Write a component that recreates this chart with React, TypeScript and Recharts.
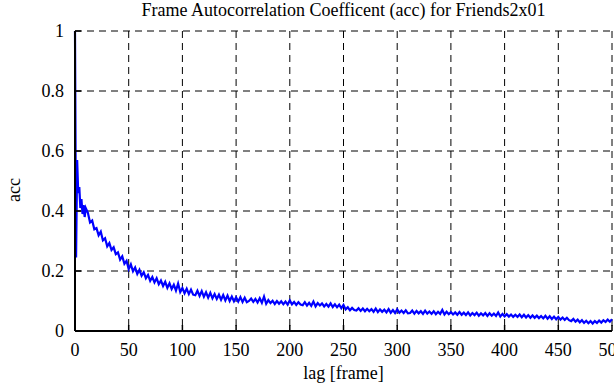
import { CartesianGrid, Line, LineChart, XAxis, YAxis } from "recharts";

const title = "Frame Autocorrelation Coefficent (acc) for Friends2x01";
const xLabel = "lag [frame]";
const yLabel = "acc";

const xTicks = [0, 50, 100, 150, 200, 250, 300, 350, 400, 450, 500];
const yTicks = [0, 0.2, 0.4, 0.6, 0.8, 1];

// lag in frames
const lags = [
  0, 1, 2, 3, 4, 5, 6, 7, 8, 9, 10,
  12, 14, 16, 18, 20, 22, 24, 26, 28, 30, 32, 34, 36, 38, 40, 42, 44, 46, 48, 50, 52, 54, 56, 58, 60,
  62, 64, 66, 68, 70, 72, 74, 76, 78, 80, 82, 84, 86, 88, 90, 92, 94, 96, 98, 100, 102, 104, 106, 108, 110,
  112, 114, 116, 118, 120, 122, 124, 126, 128, 130, 132, 134, 136, 138, 140, 142, 144, 146, 148, 150, 152, 154, 156, 158, 160,
  162, 164, 166, 168, 170, 172, 174, 176, 178, 180, 182, 184, 186, 188, 190, 192, 194, 196, 198, 200, 202, 204, 206, 208, 210,
  212, 214, 216, 218, 220, 222, 224, 226, 228, 230, 232, 234, 236, 238, 240, 242, 244, 246, 248, 250, 252, 254, 256, 258, 260,
  262, 264, 266, 268, 270, 272, 274, 276, 278, 280, 282, 284, 286, 288, 290, 292, 294, 296, 298, 300, 302, 304, 306, 308, 310,
  312, 314, 316, 318, 320, 322, 324, 326, 328, 330, 332, 334, 336, 338, 340, 342, 344, 346, 348, 350, 352, 354, 356, 358, 360,
  362, 364, 366, 368, 370, 372, 374, 376, 378, 380, 382, 384, 386, 388, 390, 392, 394, 396, 398, 400, 402, 404, 406, 408, 410,
  412, 414, 416, 418, 420, 422, 424, 426, 428, 430, 432, 434, 436, 438, 440, 442, 444, 446, 448, 450, 452, 454, 456, 458, 460,
  462, 464, 466, 468, 470, 472, 474, 476, 478, 480, 482, 484, 486, 488, 490, 492, 494, 496, 498, 500,
];

// autocorrelation coefficient
const acc = [
  1.0, 0.245, 0.57, 0.46, 0.48, 0.41, 0.44, 0.39, 0.42, 0.38, 0.41,
  0.394, 0.362, 0.368, 0.339, 0.343, 0.319, 0.331, 0.302, 0.309, 0.282, 0.293, 0.27, 0.279, 0.256, 0.262, 0.238, 0.249, 0.224, 0.234, 0.206, 0.222, 0.199, 0.212, 0.19, 0.204,
  0.184, 0.196, 0.176, 0.187, 0.167, 0.18, 0.162, 0.176, 0.156, 0.168, 0.15, 0.164, 0.144, 0.159, 0.14, 0.154, 0.135, 0.158, 0.13, 0.143, 0.126, 0.141, 0.123, 0.138, 0.121,
  0.119, 0.134, 0.117, 0.133, 0.114, 0.129, 0.111, 0.127, 0.109, 0.123, 0.107, 0.121, 0.104, 0.12, 0.102, 0.118, 0.1, 0.115, 0.099, 0.112, 0.098, 0.113, 0.097, 0.111, 0.096,
  0.1, 0.108, 0.097, 0.107, 0.095, 0.109, 0.094, 0.115, 0.091, 0.103, 0.093, 0.101, 0.09, 0.1, 0.091, 0.099, 0.089, 0.098, 0.088, 0.102, 0.089, 0.097, 0.087, 0.096, 0.088,
  0.086, 0.096, 0.085, 0.094, 0.084, 0.098, 0.082, 0.093, 0.085, 0.092, 0.082, 0.09, 0.081, 0.092, 0.08, 0.089, 0.079, 0.088, 0.076, 0.087, 0.072, 0.079, 0.069, 0.077, 0.07,
  0.068, 0.076, 0.067, 0.075, 0.066, 0.074, 0.066, 0.073, 0.064, 0.075, 0.063, 0.072, 0.064, 0.071, 0.062, 0.073, 0.061, 0.07, 0.06, 0.072, 0.061, 0.068, 0.06, 0.069, 0.059,
  0.06, 0.068, 0.058, 0.067, 0.059, 0.066, 0.057, 0.068, 0.058, 0.065, 0.057, 0.066, 0.056, 0.064, 0.057, 0.07, 0.055, 0.064, 0.056, 0.063, 0.055, 0.062, 0.054, 0.063, 0.054,
  0.061, 0.053, 0.062, 0.052, 0.06, 0.053, 0.061, 0.051, 0.059, 0.052, 0.06, 0.05, 0.059, 0.051, 0.058, 0.05, 0.062, 0.048, 0.057, 0.049, 0.056, 0.048, 0.055, 0.047, 0.054,
  0.047, 0.055, 0.046, 0.054, 0.045, 0.053, 0.044, 0.052, 0.044, 0.051, 0.043, 0.05, 0.042, 0.051, 0.041, 0.049, 0.04, 0.048, 0.039, 0.047, 0.038, 0.045, 0.037, 0.044, 0.036,
  0.033, 0.04, 0.031, 0.038, 0.029, 0.036, 0.027, 0.034, 0.026, 0.033, 0.025, 0.033, 0.027, 0.035, 0.028, 0.036, 0.03, 0.038, 0.031, 0.039,
];

const data = lags.map((lag, i) => ({ lag, acc: acc[i] }));

const font = "'Liberation Serif', 'Times New Roman', serif";
const fontSize = 18;
const inTick = 6;
const xMargin = 12;
const yMargin = 11;

function BottomTick({ x, y, payload }: any) {
  const axisY = y - xMargin;
  return (
    <g>
      <line x1={x} x2={x} y1={axisY} y2={axisY - inTick} stroke="#000" strokeWidth={1.5} />
      <text x={x} y={y} dy="0.71em" textAnchor="middle" fill="#000" fontFamily={font} fontSize={fontSize}>
        {payload.value}
      </text>
    </g>
  );
}

function TopTick({ x, y }: any) {
  return <line x1={x} x2={x} y1={y} y2={y + inTick} stroke="#000" strokeWidth={1.5} />;
}

function LeftTick({ x, y, payload }: any) {
  const axisX = x + yMargin;
  return (
    <g>
      <line x1={axisX} x2={axisX + inTick} y1={y} y2={y} stroke="#000" strokeWidth={1.5} />
      <text x={x} y={y} dy="0.35em" textAnchor="end" fill="#000" fontFamily={font} fontSize={fontSize}>
        {payload.value}
      </text>
    </g>
  );
}

function RightTick({ x, y }: any) {
  return <line x1={x} x2={x - inTick} y1={y} y2={y} stroke="#000" strokeWidth={1.5} />;
}

const axisLine = { stroke: "#000", strokeWidth: 2 };

export default function App() {
  return (
    <div style={{ position: "absolute", left: 0, top: 0, width: 614, height: 385, background: "#fff", fontFamily: font }}>
      <LineChart width={614} height={385} data={data} margin={{ top: 31, right: 2, bottom: 0, left: 0 }}>
        <CartesianGrid xAxisId="bottom" yAxisId="left" stroke="#000" strokeDasharray="7 5" />
        <XAxis
          xAxisId="bottom"
          dataKey="lag"
          type="number"
          domain={[0, 500]}
          ticks={xTicks}
          interval={0}
          height={54}
          tickSize={0}
          tickMargin={xMargin}
          tickLine={false}
          axisLine={axisLine}
          tick={<BottomTick />}
        />
        <XAxis
          xAxisId="top"
          orientation="top"
          dataKey="lag"
          type="number"
          domain={[0, 500]}
          ticks={xTicks}
          interval={0}
          height={0}
          tickSize={0}
          tickMargin={0}
          tickLine={false}
          axisLine={axisLine}
          tick={<TopTick />}
        />
        <YAxis
          yAxisId="left"
          domain={[0, 1]}
          ticks={yTicks}
          interval={0}
          width={75}
          tickSize={0}
          tickMargin={yMargin}
          tickLine={false}
          axisLine={axisLine}
          tick={<LeftTick />}
        />
        <YAxis
          yAxisId="right"
          orientation="right"
          domain={[0, 1]}
          ticks={yTicks}
          interval={0}
          width={0}
          tickSize={0}
          tickMargin={0}
          tickLine={false}
          axisLine={axisLine}
          tick={<RightTick />}
        />
        <Line
          xAxisId="bottom"
          yAxisId="left"
          type="linear"
          dataKey="acc"
          stroke="#0000ff"
          strokeWidth={2.2}
          dot={false}
          isAnimationActive={false}
        />
      </LineChart>
      <div style={{ position: "absolute", left: 75, width: 537, top: 0, textAlign: "center", fontSize: 18, lineHeight: "20px" }}>
        {title}
      </div>
      <div style={{ position: "absolute", left: 75, width: 537, top: 362, textAlign: "center", fontSize: 18, lineHeight: "22px" }}>
        {xLabel}
      </div>
      <div
        style={{
          position: "absolute",
          left: 14,
          top: 190,
          fontSize: 18,
          lineHeight: "20px",
          transform: "translate(-50%, -50%) rotate(-90deg)",
          whiteSpace: "nowrap",
        }}
      >
        {yLabel}
      </div>
    </div>
  );
}
